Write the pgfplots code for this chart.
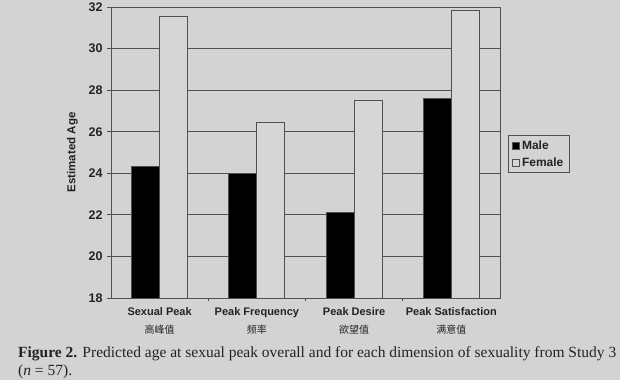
\documentclass[border=0pt]{standalone}
\usepackage{pgfplots}
\pgfplotsset{compat=1.18}
\usepackage{fontspec}
\setmainfont{Liberation Sans}
\newfontfamily\capfont{Liberation Serif}
\newfontfamily\cjk{Noto Sans CJK SC}
\definecolor{bg}{RGB}{211,211,211}
\definecolor{fem}{RGB}{214,214,214}
\definecolor{gridc}{RGB}{80,80,80}
\definecolor{txt}{RGB}{35,35,35}
\newcommand{\cj}[1]{{\mdseries\cjk\fontsize{10}{18}\selectfont #1}}
\begin{document}
\begin{tikzpicture}[x=1pt,y=1pt]
\useasboundingbox (0,0) rectangle (620,380);
\fill[bg] (0,0) rectangle (620,380);
\begin{axis}[
  at={(111pt,82pt)}, anchor=south west,
  scale only axis, width=389pt, height=291pt,
  ymin=18, ymax=32, ytick={18,20,...,32},
  xmin=-0.5, xmax=3.5,
  xtick={0,1,2,3},
  xticklabels={{Sexual Peak\\\cj{高峰值}},
               {Peak Frequency\\\cj{频率}},
               {Peak Desire\\\cj{欲望值}},
               {Peak Satisfaction\\\cj{满意值}}},
  minor xtick={0.5,1.5,2.5},
  major x tick style={draw=none},
  minor x tick style={draw=gridc, line width=0.8pt},
  tick align=outside, tick pos=left,
  major tick length=4pt, minor tick length=3pt,
  ymajorgrids, grid style={gridc, line width=0.9pt},
  axis line style={gridc, line width=0.9pt},
  y tick style={gridc, line width=0.9pt},
  ybar=0pt, bar width=28pt,
  /pgf/number format/assume math mode=true,
  ticklabel style={font=\bfseries\fontsize{11}{18}\selectfont, text=txt},
  xticklabel style={align=center, yshift=-2pt},
  yticklabel style={font=\bfseries\fontsize{12.5}{13}\selectfont, xshift=-1pt},
  ylabel={Estimated Age},
  ylabel style={font=\bfseries\fontsize{11.5}{13}\selectfont, text=txt, yshift=4pt},
  legend style={at={(1.0206,0.560)}, anchor=north west, draw=gridc, line width=0.8pt,
    fill=bg, font=\bfseries\fontsize{12}{13}\selectfont, text=txt,
    inner xsep=4pt, inner ysep=3pt, row sep=3pt,
    cells={anchor=west}},
  legend image code/.code={\draw[#1, line width=0.6pt] (0pt,-3.5pt) rectangle (7pt,3.5pt);},
]
\addplot[fill=black, draw=gridc, line width=0.8pt] coordinates {(0,24.33) (1,24.0) (2,22.1) (3,27.62)};
\addplot[fill=fem, draw=gridc, line width=0.8pt] coordinates {(0,31.57) (1,26.43) (2,27.49) (3,31.86)};
\legend{Male, Female}
\end{axis}
\node[anchor=base west, text=txt, inner sep=0pt, font=\capfont\fontsize{15.5}{18}\selectfont] at (18,23)
  {\textbf{Figure 2.} Predicted age at sexual peak overall and for each dimension of sexuality from Study 3};
\node[anchor=base west, text=txt, inner sep=0pt, font=\capfont\fontsize{15.5}{18}\selectfont] at (18,5)
  {(\textit{n} = 57).};
\end{tikzpicture}
\end{document}
